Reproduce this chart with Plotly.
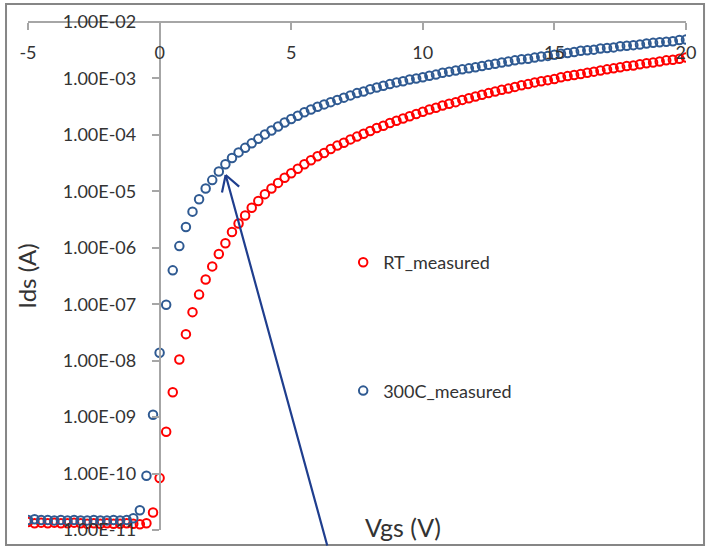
import plotly.graph_objects as go

# Gate sweep (V)
vgs = [
    -5.0, -4.75, -4.5, -4.25, -4.0, -3.75, -3.5, -3.25,
    -3.0, -2.75, -2.5, -2.25, -2.0, -1.75, -1.5, -1.25,
    -1.0, -0.75, -0.5, -0.25, 0.0, 0.25, 0.5, 0.75,
    1.0, 1.25, 1.5, 1.75, 2.0, 2.25, 2.5, 2.75,
    3.0, 3.25, 3.5, 3.75, 4.0, 4.25, 4.5, 4.75,
    5.0, 5.25, 5.5, 5.75, 6.0, 6.25, 6.5, 6.75,
    7.0, 7.25, 7.5, 7.75, 8.0, 8.25, 8.5, 8.75,
    9.0, 9.25, 9.5, 9.75, 10.0, 10.25, 10.5, 10.75,
    11.0, 11.25, 11.5, 11.75, 12.0, 12.25, 12.5, 12.75,
    13.0, 13.25, 13.5, 13.75, 14.0, 14.25, 14.5, 14.75,
    15.0, 15.25, 15.5, 15.75, 16.0, 16.25, 16.5, 16.75,
    17.0, 17.25, 17.5, 17.75, 18.0, 18.25, 18.5, 18.75,
    19.0, 19.25, 19.5, 19.75, 20.0,
]

# Ids (A), room temperature
ids_rt = [
    1.38e-11, 1.32e-11, 1.35e-11, 1.32e-11, 1.35e-11, 1.32e-11, 1.32e-11, 1.35e-11,
    1.32e-11, 1.29e-11, 1.32e-11, 1.29e-11, 1.32e-11, 1.29e-11, 1.29e-11, 1.32e-11,
    1.29e-11, 1.26e-11, 1.32e-11, 2.04e-11, 8.32e-11, 5.50e-10, 2.75e-9, 1.05e-8,
    2.95e-8, 7.24e-8, 1.48e-7, 2.75e-7, 4.68e-7, 7.76e-7, 1.20e-6, 1.91e-6,
    2.69e-6, 3.72e-6, 5.13e-6, 6.76e-6, 8.91e-6, 1.12e-5, 1.41e-5, 1.74e-5,
    2.09e-5, 2.51e-5, 3.02e-5, 3.55e-5, 4.17e-5, 4.79e-5, 5.62e-5, 6.46e-5,
    7.24e-5, 8.32e-5, 9.33e-5, 1.05e-4, 1.17e-4, 1.32e-4, 1.45e-4, 1.62e-4,
    1.78e-4, 1.95e-4, 2.14e-4, 2.34e-4, 2.57e-4, 2.82e-4, 3.02e-4, 3.31e-4,
    3.55e-4, 3.80e-4, 4.17e-4, 4.47e-4, 4.79e-4, 5.13e-4, 5.50e-4, 5.89e-4,
    6.31e-4, 6.61e-4, 7.08e-4, 7.59e-4, 7.94e-4, 8.51e-4, 8.91e-4, 9.33e-4,
    9.77e-4, 1.05e-3, 1.10e-3, 1.15e-3, 1.20e-3, 1.26e-3, 1.32e-3, 1.38e-3,
    1.45e-3, 1.51e-3, 1.58e-3, 1.66e-3, 1.70e-3, 1.78e-3, 1.86e-3, 1.91e-3,
    2.00e-3, 2.09e-3, 2.14e-3, 2.24e-3, 2.34e-3,
]

# Ids (A), 300C
ids_300c = [
    1.51e-11, 1.55e-11, 1.51e-11, 1.51e-11, 1.48e-11, 1.51e-11, 1.48e-11, 1.51e-11,
    1.48e-11, 1.48e-11, 1.51e-11, 1.48e-11, 1.48e-11, 1.51e-11, 1.48e-11, 1.51e-11,
    1.62e-11, 2.24e-11, 9.12e-11, 1.10e-9, 1.38e-8, 9.77e-8, 3.98e-7, 1.07e-6,
    2.34e-6, 4.37e-6, 7.24e-6, 1.12e-5, 1.58e-5, 2.24e-5, 3.02e-5, 3.89e-5,
    4.90e-5, 5.89e-5, 7.08e-5, 8.51e-5, 1.02e-4, 1.20e-4, 1.41e-4, 1.66e-4,
    1.91e-4, 2.19e-4, 2.51e-4, 2.82e-4, 3.16e-4, 3.47e-4, 3.80e-4, 4.17e-4,
    4.57e-4, 5.01e-4, 5.50e-4, 5.89e-4, 6.46e-4, 6.92e-4, 7.41e-4, 7.94e-4,
    8.51e-4, 8.91e-4, 9.55e-4, 1.00e-3, 1.05e-3, 1.12e-3, 1.17e-3, 1.26e-3,
    1.32e-3, 1.38e-3, 1.45e-3, 1.51e-3, 1.58e-3, 1.66e-3, 1.74e-3, 1.82e-3,
    1.91e-3, 2.00e-3, 2.09e-3, 2.19e-3, 2.24e-3, 2.34e-3, 2.45e-3, 2.51e-3,
    2.63e-3, 2.75e-3, 2.82e-3, 2.95e-3, 3.09e-3, 3.16e-3, 3.24e-3, 3.39e-3,
    3.47e-3, 3.55e-3, 3.72e-3, 3.80e-3, 3.89e-3, 3.98e-3, 4.17e-3, 4.27e-3,
    4.37e-3, 4.47e-3, 4.57e-3, 4.79e-3, 4.90e-3,
]

x_ticks = [-5, 0, 5, 10, 15, 20]
x_tick_text = ["-5", "0", "5", "10", "15", "20"]
y_ticks = [1e-11, 1e-10, 1e-9, 1e-8, 1e-7, 1e-6, 1e-5, 1e-4, 1e-3, 1e-2]
y_tick_text = ["1.00E-11", "1.00E-10", "1.00E-09", "1.00E-08", "1.00E-07",
               "1.00E-06", "1.00E-05", "1.00E-04", "1.00E-03", "1.00E-02"]

FONT = "Lato, 'Liberation Sans', sans-serif"
TXT = "#333333"
AX = "#A6A6A6"
RED = "#FF0000"
BLUE = "#2F5A92"
ARROW = "#1F3E8E"

fig = go.Figure()
fig.add_trace(go.Scatter(
    x=vgs, y=ids_rt, mode="markers", name="RT_measured", legendgroup="a",
    marker=dict(symbol="circle-open", size=8.5, color=RED, line=dict(width=2, color=RED)),
))
fig.add_trace(go.Scatter(
    x=vgs, y=ids_300c, mode="markers", name="300C_measured", legendgroup="b",
    marker=dict(symbol="circle-open", size=8.5, color=BLUE, line=dict(width=2, color=BLUE)),
))

# arrow tip (data coords, log10 for y) and chevron arms
tip_x, tip_y = 2.51, -4.71
arrow_common = dict(text="", xref="x", yref="y", x=tip_x, y=tip_y, showarrow=True,
                    arrowhead=0, arrowwidth=2.2, arrowcolor=ARROW, standoff=0)

fig.update_layout(
    width=708, height=547,
    margin=dict(l=28, r=22, t=22, b=17),
    paper_bgcolor="white", plot_bgcolor="white",
    font=dict(family=FONT, size=18, color=TXT),
    showlegend=True,
    legend=dict(x=0.479, y=0.563, xanchor="left", yanchor="top",
                tracegroupgap=102, font=dict(size=18, color=TXT),
                bgcolor="rgba(0,0,0,0)"),
    xaxis=dict(range=[-5, 20], anchor="free", position=1.0, side="bottom",
               showline=True, linecolor=AX, linewidth=1.5,
               ticks="outside", ticklen=7, tickcolor=AX, tickwidth=1.5,
               tickmode="array", tickvals=x_ticks, ticktext=x_tick_text,
               ticklabelstandoff=8,
               showgrid=False, zeroline=False, automargin=False,
               tickfont=dict(size=18, color=TXT)),
    yaxis=dict(type="log", range=[-11, -2], anchor="free", position=0.2, side="left",
               showline=True, linecolor=AX, linewidth=1.5,
               ticks="outside", ticklen=7, tickcolor=AX, tickwidth=1.5,
               tickmode="array", tickvals=y_ticks, ticktext=y_tick_text,
               ticklabelstandoff=12,
               showgrid=False, zeroline=False, automargin=False,
               tickfont=dict(size=18, color=TXT),
               title=dict(text="Ids (A)", font=dict(size=24, color=TXT), standoff=18)),
    annotations=[
        dict(text="Vgs (V)", xref="paper", yref="paper", x=0.57, y=0.006,
             xanchor="center", yanchor="middle", showarrow=False,
             font=dict(size=25, color=TXT)),
        dict(arrow_common, ax=102, ay=372),
        dict(arrow_common, ax=-4, ay=19),
        dict(arrow_common, ax=15, ay=13),
    ],
    shapes=[
        dict(type="rect", xref="paper", yref="paper",
             x0=-0.0334, x1=1.0274, y0=-0.0295, y1=1.0354,
             line=dict(color="#868686", width=2), fillcolor="rgba(0,0,0,0)",
             layer="above"),
    ],
)

fig.write_html("out.html")
